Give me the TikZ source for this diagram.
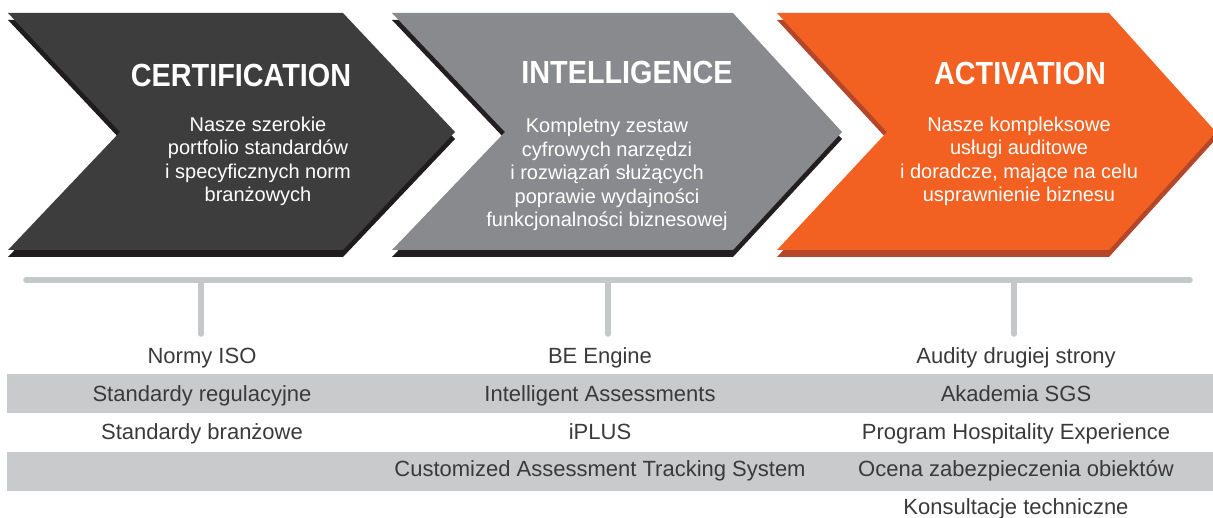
\documentclass[tikz,border=0pt]{standalone}
\usepackage{fontspec}
\setmainfont{Liberation Sans}
\newfontfamily\headfont[FakeStretch=0.9]{Liberation Sans}
\usepackage{xcolor}
\usepackage{tikz}
\definecolor{certgray}{HTML}{3D3D3D}
\definecolor{certshade}{HTML}{1E1C1C}
\definecolor{intelgray}{HTML}{898A8D}
\definecolor{intelshade}{HTML}{231F20}
\definecolor{actorange}{HTML}{F26122}
\definecolor{actshade}{HTML}{B4472A}
\definecolor{bandgray}{HTML}{C9CACC}
\definecolor{railgray}{HTML}{C6C7C9}
\definecolor{itemgray}{HTML}{3A3A3A}
\tikzstyle{headline}=[text=white,font=\headfont\bfseries\fontsize{32}{32}\selectfont,inner sep=0pt,anchor=base]
\tikzstyle{blurb}=[text=white,align=center,font=\fontsize{20}{23.5}\selectfont,inner sep=0pt,anchor=base]
\tikzstyle{listitem}=[text=itemgray,font=\fontsize{22}{22}\selectfont,inner sep=0pt,anchor=base]
\tikzstyle{band}=[fill=bandgray]
\tikzstyle{rail}=[draw=railgray,line width=5.5pt,line cap=round]

\begin{document}
\begin{tikzpicture}[x=1pt,y=-1pt]
        \useasboundingbox (0,0) rectangle (1213,518);
        \clip (0,0) rectangle (1213,518);
        % chevrons
        \fill [certshade] (8,20) -- (343,20) -- (455,139) -- (343,257) -- (8,257) -- (120,139) -- cycle;
        \fill [certgray] (8,13) -- (343,13) -- (455,132) -- (343,250) -- (8,250) -- (120,132) -- cycle;
        \fill [intelshade] (392,20) -- (733,20) -- (842,139) -- (733,257) -- (392,257) -- (505,139) -- cycle;
        \fill [intelgray] (392,13) -- (733,13) -- (842,132) -- (733,250) -- (392,250) -- (505,132) -- cycle;
        \fill [actshade] (777,20) -- (1109,20) -- (1216,139) -- (1109,257) -- (777,257) -- (887,139) -- cycle;
        \fill [actorange] (777,13) -- (1109,13) -- (1216,132) -- (1109,250) -- (777,250) -- (887,132) -- cycle;
        % base of a blurb is its last line
        \node at (241,87) [headline] (certtitle) {CERTIFICATION};
        \node at (258,202) [blurb] (certtext) {Nasze szerokie\\portfolio standardów\\i specyficznych norm\\branżowych};
        \node at (627,84) [headline] (inteltitle) {INTELLIGENCE};
        \node at (607,227) [blurb] (inteltext) {Kompletny zestaw\\cyfrowych narzędzi\\i rozwiązań służących\\poprawie wydajności\\funkcjonalności biznesowej};
        \node at (1020,85) [headline] (acttitle) {ACTIVATION};
        \node at (1019,202) [blurb] (acttext) {Nasze kompleksowe\\usługi auditowe\\i doradcze, mające na celu\\usprawnienie biznesu};
        % rail and ticks
        \coordinate (railL) at (26,280);
        \coordinate (railR) at (1190,280);
        \coordinate (railcert) at (201,280);
        \coordinate (railintel) at (608,280);
        \coordinate (railact) at (1014,280);
        \coordinate (tickcert) at (201,334);
        \coordinate (tickintel) at (608,334);
        \coordinate (tickact) at (1014,334);
        \draw [rail] (railL) -- (railR);
        \draw [rail] (railcert) -- (tickcert);
        \draw [rail] (railintel) -- (tickintel);
        \draw [rail] (railact) -- (tickact);
        % list
        \fill [band] (7,374) rectangle (1213,413);
        \fill [band] (7,452) rectangle (1213,491);
        \node at (202,364) [listitem] (iso) {Normy ISO};
        \node at (202,401.5) [listitem] (regul) {Standardy regulacyjne};
        \node at (202,439) [listitem] (branz) {Standardy branżowe};
        \node at (600,364) [listitem] (engine) {BE Engine};
        \node at (600,401.5) [listitem] (assess) {Intelligent Assessments};
        \node at (600,439) [listitem] (iplus) {iPLUS};
        \node at (600,476.5) [listitem] (tracking) {Customized Assessment Tracking System};
        \node at (1016,364) [listitem] (audity) {Audity drugiej strony};
        \node at (1016,401.5) [listitem] (akademia) {Akademia SGS};
        \node at (1016,439) [listitem] (hospitality) {Program Hospitality Experience};
        \node at (1016,476.5) [listitem] (ocena) {Ocena zabezpieczenia obiektów};
        \node at (1016,514) [listitem] (konsult) {Konsultacje techniczne};
      \end{tikzpicture}
\end{document}
